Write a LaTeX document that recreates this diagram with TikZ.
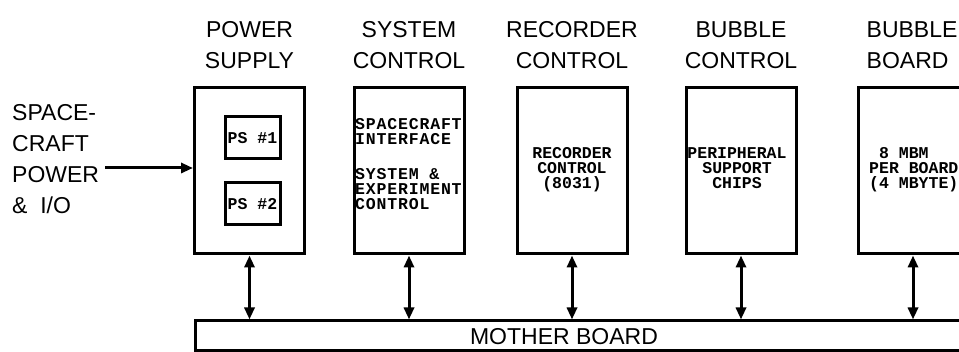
\documentclass[tikz,border=0pt]{standalone}
\usepackage{fontspec}
\setmainfont{Liberation Sans}
\newfontfamily\dotfont{Liberation Mono}
\newfontfamily\widedotfont[LetterSpace=5]{Liberation Mono}
\usetikzlibrary{arrows.meta,positioning}
\tikzset{
  card/.style={draw,line width=3pt,minimum width=110pt,minimum height=166pt,inner sep=0pt},
  psbox/.style={draw,line width=3pt,minimum width=55pt,minimum height=42pt,inner sep=0pt,font=\dotfont\bfseries\fontsize{16.5}{15}\selectfont},
  ttl/.style={font=\fontsize{23}{31}\selectfont,align=center,inner sep=0pt},
  prt/.style={font=\dotfont\bfseries\fontsize{16.5}{15}\selectfont,inner sep=0pt},
  ar/.style={-{Triangle[length=12pt,width=10pt]},line width=3pt},
  dar/.style={{Triangle[length=12pt,width=10pt]}-{Triangle[length=12pt,width=10pt]},line width=3pt},
}
\begin{document}
\begin{tikzpicture}[x=1pt,y=-1pt]
  \useasboundingbox (0,0) rectangle (959,352);
  \clip (0,0) rectangle (959,352);
  % boards
  \node[card] (ps) at (249.5,171) {};
  \node[card,right=46.5pt of ps] (sc) {};
  \node[card,right=50pt of sc] (rec) {};
  \node[card,right=56pt of rec] (bc) {};
  \node[card,right=59pt of bc] (bb) {};
  \node[draw,line width=3pt,minimum width=805pt,minimum height=30pt,inner sep=0pt] (mb) at (597.5,336) {};
  \node[ttl] (mbl) at (564,337) {MOTHER BOARD};
  % titles
  \node[ttl,above=18pt of ps] (pst) {POWER\\SUPPLY};
  \node[ttl,above=18pt of sc] (sct) {SYSTEM\\CONTROL};
  \node[ttl,above=18pt of rec] (rect) {RECORDER\\CONTROL};
  \node[ttl,above=18pt of bc] (bct) {BUBBLE\\CONTROL};
  \node[ttl,align=left,above right=18pt and 10pt of bb.north west] (bbt) {BUBBLE\\BOARD};
  % contents
  \node[psbox] (ps1) at (252.5,138) {PS \#1};
  \node[psbox] (ps2) at (252.5,204) {PS \#2};
  \node[prt,font=\widedotfont\bfseries\fontsize{16.5}{15}\selectfont,align=left,anchor=north west] (sctx) at (355,118)
       {SPACECRAFT\\INTERFACE\\[20pt]SYSTEM \&\\EXPERIMENT\\CONTROL};
  \node[prt,align=center,anchor=north] (rectx) at (572,147) {RECORDER\\CONTROL\\(8031)};
  \node[prt,align=center,anchor=north] (bctx) at (737,147) {PERIPHERAL\\SUPPORT\\CHIPS};
  \node[prt,align=left,anchor=north west] (bbtx) at (869,147) {~8 MBM\\PER BOARD\\(4 MBYTE)};
  % input
  \node[ttl,align=left,anchor=north west] (io) at (12,104.5) {SPACE-\\CRAFT\\POWER\\\& \ I/O};
  \coordinate (in) at (105,168);
  \draw[ar] (in) -- (in -| ps.west);
  % bus links
  \foreach \b in {ps,sc,rec,bc,bb}
    \draw[dar] (\b.south) -- (\b.south |- mb.north);
\end{tikzpicture}
\end{document}
